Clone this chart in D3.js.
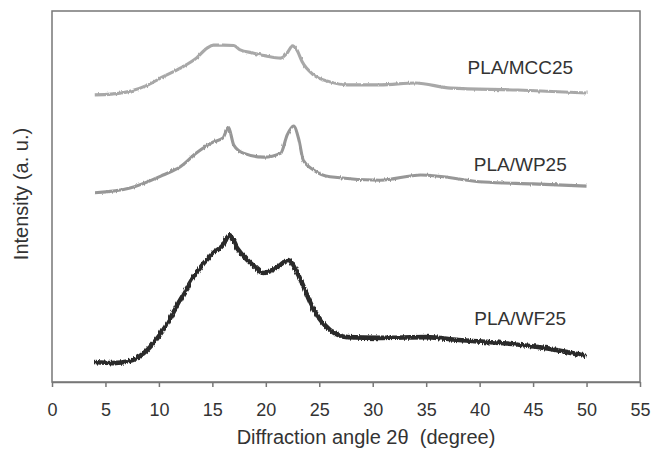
<!DOCTYPE html>
<html lang="en">
    <head>
        <meta charset="utf-8">
        <title>XRD patterns</title>
        <style>
          body { margin: 0; background: #fff; }
          svg { display: block; }
        </style>
        <script src="https://d3js.org/d3.v7.min.js"></script>
    </head>
    <body>
        <script type="text/javascript">
          // diffraction angle 2theta (degree) and intensity (a. u.)
          var mccAngle = [4.0, 5.5, 7.3, 9.0, 10.4, 12.0, 13.5, 14.5, 15.1, 16.0, 17.0, 17.6, 18.8, 20.0, 21.4, 22.0, 22.5, 22.9, 23.4, 24.5, 26.0, 27.6, 30.7, 34.0, 37.3, 43.6, 50.0];
          var mccValue = [77.4, 77.6, 78.4, 80.1, 82.3, 84.6, 87.3, 90.0, 90.8, 90.8, 90.7, 89.5, 88.7, 87.9, 87.3, 88.7, 90.6, 89.5, 86.3, 82.7, 80.9, 80.1, 80.1, 80.6, 79.2, 78.7, 77.9];

          var wpAngle = [4.0, 7.3, 10.4, 12.0, 13.5, 15.1, 16.0, 16.5, 17.0, 17.9, 19.8, 21.4, 22.0, 22.6, 23.1, 23.5, 24.5, 26.0, 30.7, 34.5, 40.4, 45.0, 50.0];
          var wpValue = [51.0, 52.3, 55.8, 58.0, 61.7, 64.7, 65.8, 68.7, 63.9, 61.7, 60.6, 61.7, 66.6, 69.0, 65.2, 59.8, 57.1, 55.3, 54.4, 55.8, 53.9, 53.4, 52.8];

          var wfAngle = [4.0, 5.7, 7.3, 8.9, 10.4, 12.0, 13.5, 15.1, 16.0, 16.6, 17.3, 18.8, 19.8, 21.1, 22.1, 22.9, 24.5, 26.0, 27.6, 30.7, 35.0, 38.0, 42.0, 46.0, 50.0];
          var wfValue = [5.4, 5.1, 5.7, 8.6, 14.0, 22.1, 29.4, 34.8, 36.9, 39.6, 36.1, 31.5, 29.4, 31.0, 32.9, 29.6, 19.4, 14.0, 12.1, 11.9, 12.1, 11.3, 10.5, 9.2, 7.0];

          var seriesNames = ["PLA/MCC25", "PLA/WP25", "PLA/WF25"];
          var xTicks = [0, 5, 10, 15, 20, 25, 30, 35, 40, 45, 50, 55];

          var w = 652;
          var h = 450;
          var plotLeft = 52, plotRight = 640, plotTop = 11, plotBottom = 382;
          var font = "'Liberation Sans', Arial, sans-serif";

          var svg = d3.select("body")
                      .append("svg")
                      .attr("width", w)
                      .attr("height", h);

          // rough, noisy look of the raw scans
          var defs = svg.append("defs");
          [["grain", 2.5], ["grainDark", 4]].forEach(function (f) {
            var flt = defs.append("filter")
                          .attr("id", f[0])
                          .attr("x", "-2%").attr("y", "-20%")
                          .attr("width", "104%").attr("height", "140%");
            flt.append("feTurbulence")
               .attr("type", "fractalNoise")
               .attr("baseFrequency", "0.7 0.08")
               .attr("numOctaves", 2)
               .attr("seed", 3)
               .attr("result", "noise");
            flt.append("feDisplacementMap")
               .attr("in", "SourceGraphic")
               .attr("in2", "noise")
               .attr("scale", f[1])
               .attr("xChannelSelector", "R")
               .attr("yChannelSelector", "G");
          });

          var x = d3.scaleLinear().domain([0, 55]).range([plotLeft, plotRight]);
          var y = d3.scaleLinear().domain([0, 100]).range([plotBottom, plotTop]);

          var series = [
            { name: seriesNames[0], angle: mccAngle, value: mccValue, color: "#a8a8a8", width: 3.1, filter: "grain", labelAt: 83 },
            { name: seriesNames[1], angle: wpAngle, value: wpValue, color: "#979797", width: 3.1, filter: "grain", labelAt: 57 },
            { name: seriesNames[2], angle: wfAngle, value: wfValue, color: "#2b2b2b", width: 4.6, filter: "grainDark", labelAt: 15.3 }
          ];

          var line = d3.line()
                       .x(function (d) { return x(d[0]); })
                       .y(function (d) { return y(d[1]); })
                       .curve(d3.curveMonotoneX);

          // plot frame
          svg.append("rect")
             .attr("x", plotLeft)
             .attr("y", plotTop)
             .attr("width", plotRight - plotLeft)
             .attr("height", plotBottom - plotTop)
             .style("fill", "none")
             .style("stroke", "#777")
             .style("stroke-width", 1.5);

          // bottom axis with outward ticks
          var xAxis = d3.axisBottom(x)
                        .tickValues(xTicks)
                        .tickSize(5)
                        .tickSizeOuter(0)
                        .tickPadding(16);
          var gx = svg.append("g")
                      .attr("transform", "translate(0," + plotBottom + ")")
                      .call(xAxis);
          gx.select(".domain").style("stroke", "#777").style("stroke-width", 1.5);
          gx.selectAll(".tick line").style("stroke", "#777").style("stroke-width", 1.5);
          gx.selectAll(".tick text")
            .style("font-family", font)
            .style("font-size", "18px")
            .style("fill", "#333");

          // curves
          svg.selectAll("path.curve")
             .data(series)
             .enter()
             .append("path")
             .attr("class", "curve")
             .attr("d", function (s) { return line(d3.zip(s.angle, s.value)); })
             .attr("filter", function (s) { return "url(#" + s.filter + ")"; })
             .style("fill", "none")
             .style("stroke", function (s) { return s.color; })
             .style("stroke-width", function (s) { return s.width; })
             .style("stroke-linejoin", "round");

          // curve labels
          svg.selectAll("text.label")
             .data(series)
             .enter()
             .append("text")
             .attr("class", "label")
             .attr("x", x(43.8))
             .attr("y", function (s) { return y(s.labelAt); })
             .style("text-anchor", "middle")
             .style("font-family", font)
             .style("font-size", "19px")
             .style("fill", "#333")
             .text(function (s) { return s.name; });

          // axis titles
          svg.append("text")
             .attr("x", 366)
             .attr("y", 444)
             .style("text-anchor", "middle")
             .style("font-family", font)
             .style("font-size", "20px")
             .style("fill", "#333")
             .text("Diffraction angle 2\u03b8\u00a0 (degree)");

          svg.append("text")
             .attr("transform", "translate(28,194) rotate(-90)")
             .style("text-anchor", "middle")
             .style("font-family", font)
             .style("font-size", "20px")
             .style("fill", "#333")
             .text("Intensity (a. u.)");
        </script>
    </body>
</html>
